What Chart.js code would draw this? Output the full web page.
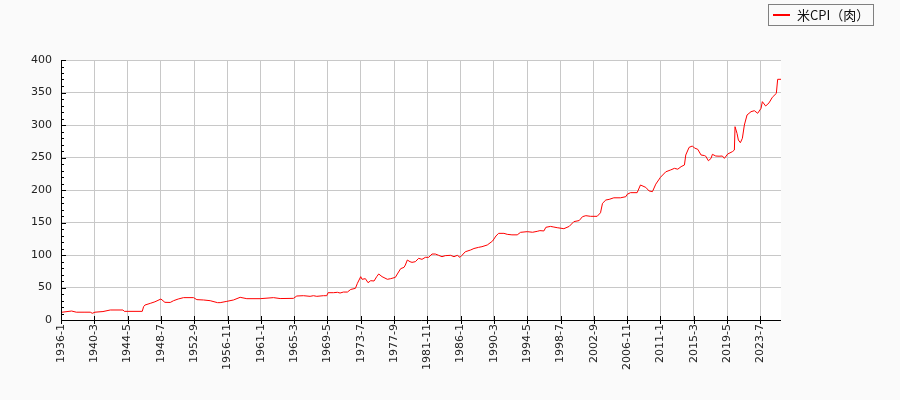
<!DOCTYPE html>
<html>
<head>
<meta charset="utf-8">
<script src="https://cdn.jsdelivr.net/npm/chart.js@4/dist/chart.umd.min.js"></script>
<style>
  html, body { margin: 0; padding: 0; background: #fafafa; }
  #wrap { width: 900px; height: 400px; position: relative; }
</style>
</head>
<body>
<div id="wrap"><canvas id="cpiChart" width="900" height="400"></canvas></div>
<script>
// Series label
const seriesLabel = '米CPI（肉）';

// Readings (month, index value)
const dates = [
  '1936-1', '1937-5', '1937-12', '1939-1', '1939-9', '1939-12', '1940-4', '1941-4', '1942-3', '1943-10',
  '1943-12', '1946-3', '1946-5', '1946-7', '1947-3', '1947-10', '1948-7', '1949-1', '1949-9', '1950-2',
  '1950-9', '1951-5', '1952-8', '1953-1', '1953-11', '1954-9', '1955-8', '1955-12', '1956-10', '1957-8',
  '1958-6', '1959-4', '1960-12', '1962-8', '1963-6', '1965-2', '1965-7', '1966-5', '1967-3', '1967-8',
  '1968-1', '1968-11', '1969-4', '1969-6', '1970-2', '1970-8', '1970-12', '1971-5', '1971-11', '1972-4',
  '1972-11', '1973-2', '1973-7', '1973-9', '1974-2', '1974-6', '1974-10', '1975-3', '1975-7', '1975-10',
  '1976-3', '1976-11', '1977-4', '1977-11', '1978-2', '1978-7', '1978-12', '1979-2', '1979-5', '1979-9',
  '1979-12', '1980-5', '1980-10', '1981-3', '1981-8', '1982-1', '1982-6', '1982-11', '1983-4', '1983-9',
  '1984-2', '1984-10', '1985-3', '1985-8', '1985-12', '1986-3', '1986-8', '1987-4', '1987-9', '1988-4',
  '1988-9', '1989-5', '1990-1', '1990-6', '1990-10', '1991-6', '1991-11', '1992-6', '1993-2', '1993-7',
  '1994-5', '1995-1', '1995-8', '1995-12', '1996-6', '1996-9', '1997-4', '1997-9', '1998-2', '1998-12',
  '1999-8', '2000-3', '2000-11', '2001-4', '2001-9', '2002-4', '2003-2', '2003-7', '2003-10', '2004-3',
  '2004-8', '2005-3', '2006-1', '2006-9', '2006-11', '2007-4', '2008-2', '2008-7', '2009-3', '2009-8',
  '2010-1', '2010-6', '2011-1', '2011-9', '2012-4', '2012-10', '2013-3', '2013-8', '2014-1', '2014-3',
  '2014-8', '2015-1', '2015-4', '2015-9', '2016-2', '2016-7', '2016-9', '2017-1', '2017-5', '2017-7',
  '2017-12', '2018-5', '2018-10', '2019-1', '2019-6', '2020-1', '2020-4', '2020-5', '2020-8', '2020-10',
  '2021-1', '2021-4', '2021-7', '2021-11', '2022-5', '2022-10', '2023-3', '2023-8', '2023-10', '2024-3',
  '2024-8', '2025-1', '2025-7', '2025-9', '2026-2'
];
const values = [
  11.8, 13.8, 12.0, 12.0, 12.0, 10.3, 12.0, 13.0, 15.4, 15.4,
  13.3, 13.3, 20.5, 23.0, 25.6, 28.0, 32.3, 27.2, 27.0, 29.7,
  32.3, 34.4, 34.4, 31.3, 30.8, 29.7, 26.7, 26.7, 28.7, 30.8,
  34.9, 32.8, 32.8, 34.4, 33.0, 33.3, 36.9, 37.4, 36.4, 37.4,
  36.4, 37.4, 37.4, 42.0, 42.0, 42.6, 41.5, 43.0, 43.0, 47.0,
  48.7, 56.4, 66.7, 62.6, 63.6, 57.4, 60.5, 60.0, 66.7, 70.8,
  66.7, 62.6, 63.6, 65.6, 70.8, 79.0, 81.0, 84.6, 92.3, 89.7,
  88.7, 89.7, 94.9, 93.3, 96.4, 96.4, 101.5, 101.5, 99.5, 97.4,
  99.0, 99.5, 97.4, 99.5, 96.4, 99.5, 105.0, 107.7, 110.0, 111.8,
  112.8, 115.4, 121.5, 129.2, 133.3, 133.3, 131.8, 131.0, 131.0, 134.9,
  135.9, 135.0, 136.4, 137.5, 137.0, 142.6, 144.0, 143.0, 142.0, 140.5,
  144.0, 151.3, 153.0, 159.0, 160.5, 159.5, 159.5, 165.0, 179.5, 184.6,
  185.6, 188.0, 188.0, 189.7, 193.3, 195.9, 195.9, 207.7, 204.0, 198.5,
  197.5, 209.0, 219.5, 228.0, 230.7, 233.3, 232.0, 235.9, 238.5, 253.8,
  265.6, 267.7, 264.6, 262.6, 253.8, 253.0, 252.0, 245.0, 248.7, 254.9,
  252.3, 252.0, 252.3, 248.7, 255.4, 259.0, 261.5, 297.4, 287.0, 276.9,
  272.8, 279.5, 300.0, 315.4, 320.5, 322.0, 318.0, 325.6, 335.9, 329.2,
  334.0, 342.6, 348.7, 370.3, 370.3
];

// Axis settings
const firstYear = 1936;
const lastMonthIndex = 1081;   // 2026-2
const xTickStep = 50;          // label every 50 months
const yTicks = [0, 50, 100, 150, 200, 250, 300, 350, 400];
const yMinorStep = 10;

function monthIndex(s) {
  const [y, m] = s.split('-').map(Number);
  return (y - firstYear) * 12 + (m - 1);
}
function monthLabel(i) {
  return (firstYear + Math.floor(i / 12)) + '-' + (i % 12 + 1);
}

const points = dates.map((d, i) => ({ x: monthIndex(d), y: values[i] }));

// background: grey page, white plotting area
const bgPlugin = {
  id: 'bgPlugin',
  beforeDraw(chart) {
    const { ctx, chartArea: a } = chart;
    ctx.save();
    ctx.fillStyle = '#fafafa';
    ctx.fillRect(0, 0, chart.width, chart.height);
    ctx.fillStyle = '#ffffff';
    ctx.fillRect(a.left, a.top, a.right - a.left, a.bottom - a.top);
    ctx.restore();
  }
};

// axis lines, tick marks (incl. minor y ticks) and the boxed legend
const axisPlugin = {
  id: 'axisPlugin',
  afterDraw(chart) {
    const { ctx, chartArea: a, scales: { x, y } } = chart;
    ctx.save();
    ctx.strokeStyle = '#000';
    ctx.lineWidth = 1;
    ctx.beginPath();
    ctx.moveTo(a.left + 0.5, a.top);
    ctx.lineTo(a.left + 0.5, a.bottom + 0.5);
    ctx.lineTo(a.right, a.bottom + 0.5);
    ctx.stroke();

    ctx.beginPath();
    for (let v = 0; v <= 400; v += yMinorStep) {
      const py = Math.round(y.getPixelForValue(v)) + 0.5;
      const len = (v % 50 === 0) ? 5 : 3;
      ctx.moveTo(a.left, py);
      ctx.lineTo(a.left + len, py);
    }
    for (let i = 0; i <= lastMonthIndex; i += xTickStep) {
      const px = Math.round(x.getPixelForValue(i)) + 0.5;
      ctx.moveTo(px, a.bottom - 4);
      ctx.lineTo(px, a.bottom + 4);
    }
    ctx.stroke();

    // legend
    const ds = chart.data.datasets[0];
    ctx.fillStyle = '#fafafa';
    ctx.fillRect(768, 4, 105, 21);
    ctx.strokeStyle = '#808080';
    ctx.strokeRect(768.5, 4.5, 105, 21);
    ctx.strokeStyle = ds.borderColor;
    ctx.lineWidth = 2;
    ctx.beginPath();
    ctx.moveTo(773, 15);
    ctx.lineTo(790, 15);
    ctx.stroke();
    ctx.fillStyle = '#111';
    ctx.font = '13px "Noto Sans CJK JP", "DejaVu Sans", sans-serif';
    ctx.textBaseline = 'middle';
    ctx.textAlign = 'left';
    ctx.fillText(ds.label, 797, 15);
    ctx.restore();
  }
};

const ctx = document.getElementById('cpiChart').getContext('2d');
new Chart(ctx, {
  type: 'line',
  data: {
    datasets: [{
      label: seriesLabel,
      data: points,
      borderColor: '#ff0000',
      borderWidth: 1,
      pointRadius: 0,
      tension: 0,
      fill: false
    }]
  },
  options: {
    responsive: false,
    animation: false,
    parsing: false,
    layout: { padding: { top: 60, right: 119, left: 0, bottom: 0 } },
    scales: {
      x: {
        type: 'linear',
        min: 0,
        max: lastMonthIndex,
        afterBuildTicks(scale) {
          const t = [];
          for (let i = 0; i <= lastMonthIndex; i += xTickStep) t.push({ value: i });
          scale.ticks = t;
        },
        afterFit(scale) { scale.height = 80; },
        border: { display: false },
        grid: { color: '#c8c8c8', lineWidth: 1, drawTicks: false },
        ticks: {
          autoSkip: false,
          minRotation: 90,
          maxRotation: 90,
          padding: 4,
          color: '#222',
          font: { family: '"DejaVu Sans", sans-serif', size: 11 },
          callback: (v) => monthLabel(v)
        }
      },
      y: {
        min: 0,
        max: 400,
        afterBuildTicks(scale) { scale.ticks = yTicks.map(v => ({ value: v })); },
        afterFit(scale) { scale.width = 61; },
        border: { display: false },
        grid: { color: '#c8c8c8', lineWidth: 1, drawTicks: false },
        ticks: {
          padding: 9,
          color: '#222',
          font: { family: '"DejaVu Sans", sans-serif', size: 11 }
        }
      }
    },
    plugins: {
      legend: { display: false },
      tooltip: { enabled: false }
    }
  },
  plugins: [bgPlugin, axisPlugin]
});
</script>
</body>
</html>
